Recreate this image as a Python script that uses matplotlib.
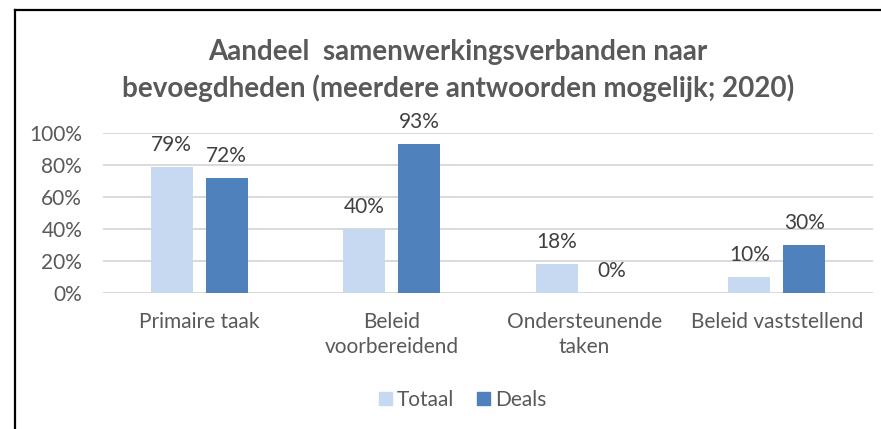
import matplotlib
matplotlib.use("Agg")
import matplotlib.pyplot as plt
from matplotlib.lines import Line2D
from matplotlib.patches import Patch
import numpy as np

categories = ["Primaire taak", "Beleid\nvoorbereidend", "Ondersteunende\ntaken", "Beleid vaststellend"]
totaal = [79, 40, 18, 10]
deals = [72, 93, 0, 30]
series_names = ["Totaal", "Deals"]
yticks = [0, 20, 40, 60, 80, 100]
ytick_labels = ["0%", "20%", "40%", "60%", "80%", "100%"]
title_lines = ["Aandeel  samenwerkingsverbanden naar",
               "bevoegdheden (meerdere antwoorden mogelijk; 2020)"]

C_TOT = "#C6D9F0"
C_DEALS = "#4F81BD"
GRAY = "#595959"
FONT = "Lato"
FS = 15

plt.rcParams['font.family'] = [FONT, 'DejaVu Sans']

W, H = 881, 429
fig = plt.figure(figsize=(W/100, H/100), dpi=100)
fig.patch.set_facecolor("white")

ax = fig.add_axes([103/W, 1 - 293/H, (873-103)/W, 160/H])
x = np.arange(len(categories))
bw = 0.218
off = 0.143
b1 = ax.bar(x - off, totaal, bw, color=C_TOT, zorder=3)
b2 = ax.bar(x + off, deals, bw, color=C_DEALS, zorder=3)

for bars, vals in ((b1, totaal), (b2, deals)):
    for r, v in zip(bars, vals):
        ax.annotate(f"{v}%", (r.get_x() + r.get_width()/2, v),
                    xytext=(0, 16), textcoords="offset pixels",
                    ha="center", va="baseline", fontsize=FS, color="#404040")

ax.set_xlim(-0.5, len(categories) - 0.5)
ax.set_ylim(0, 100)
ax.set_yticks(yticks)
ax.set_yticklabels(ytick_labels, fontsize=FS, color=GRAY)
ax.set_xticks(x)
ax.set_xticklabels(categories, fontsize=FS, color=GRAY, linespacing=1.3)
ax.tick_params(axis="both", length=0)
ax.tick_params(axis="y", pad=15)
ax.tick_params(axis="x", pad=14)
ax.grid(axis="y", color="#D9D9D9", lw=1.4, zorder=0)
for s in ax.spines.values():
    s.set_visible(False)
ax.set_facecolor("none")

fig.text(458/W, 1 - 60/H, title_lines[0], ha="center", va="baseline",
         fontsize=20, fontweight="bold", color=GRAY)
fig.text(458/W, 1 - 97/H, title_lines[1], ha="center", va="baseline",
         fontsize=20, fontweight="bold", color=GRAY)

handles = [Patch(color=C_TOT), Patch(color=C_DEALS)]
fig.legend(handles, series_names, loc="center", bbox_to_anchor=(463/W, 1 - 400/H),
           ncol=2, frameon=False, fontsize=FS, labelcolor=GRAY,
           handlelength=0.6, handleheight=0.6, handletextpad=0.25, columnspacing=1.1)

# border lines
fig.add_artist(Line2D([15/W, 1], [1 - 10/H, 1 - 10/H], color="black", lw=1.6, transform=fig.transFigure))
fig.add_artist(Line2D([15/W, 15/W], [0, 1 - 10/H], color="black", lw=1.6, transform=fig.transFigure))

fig.savefig("out.png", dpi=100)
